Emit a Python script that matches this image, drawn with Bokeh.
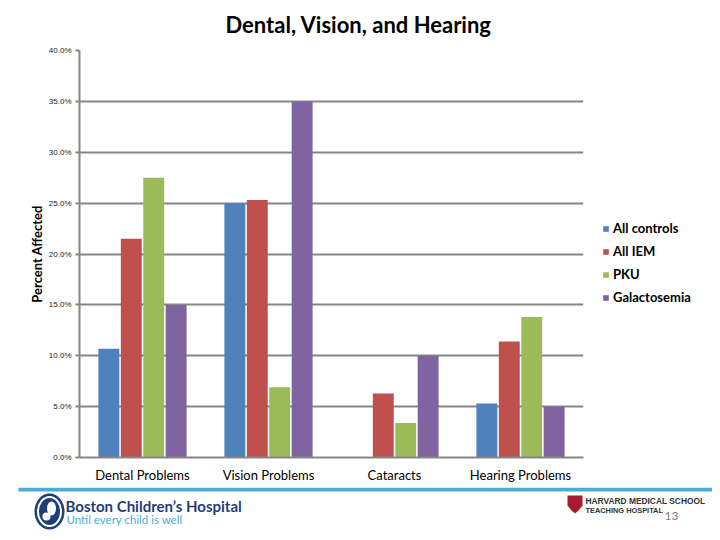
from bokeh.plotting import figure
from bokeh.models import (FactorRange, Range1d, Legend, LegendItem,
                          PrintfTickFormatter, FixedTicker, ColumnDataSource)
from bokeh.transform import dodge
from bokeh.core.properties import value
from bokeh.embed import file_html
from bokeh.resources import INLINE

# ---- data ----
categories = ["Dental Problems", "Vision Problems", "Cataracts", "Hearing Problems"]
series_names = ["All controls", "All IEM", "PKU", "Galactosemia"]
all_controls = [10.7, 25.0, 0.0, 5.3]
all_iem = [21.5, 25.3, 6.3, 11.4]
pku = [27.5, 6.9, 3.4, 13.8]
galactosemia = [15.0, 35.0, 10.0, 5.0]
y_ticks = [0, 5, 10, 15, 20, 25, 30, 35, 40]

colors = ["#4F81BD", "#C0504D", "#9BBB59", "#8064A2"]
GRID = "#868686"
FONT = "Lato"

source = ColumnDataSource(dict(cat=categories, s0=all_controls, s1=all_iem,
                               s2=pku, s3=galactosemia))

chart = figure(frame_width=504, frame_height=407,
               x_range=FactorRange(*categories), y_range=Range1d(0, 40),
               output_backend="svg", toolbar_location=None,
               title="Dental, Vision, and Hearing",
               min_border_left=79, min_border_right=129, min_border_top=50, min_border_bottom=30)
chart.outline_line_color = None
chart.background_fill_color = "white"
chart.border_fill_color = "white"

chart.title.align = "left"
chart.title.vertical_align = "top"
chart.title.offset = 146
chart.title.standoff = 21
chart.title.text_font = FONT
chart.title.text_font_size = "22px"
chart.title.text_font_style = "bold"
chart.title.text_color = "black"

chart.xgrid.grid_line_color = None
chart.ygrid.ticker = FixedTicker(ticks=y_ticks)
chart.ygrid.grid_line_color = GRID
chart.ygrid.grid_line_width = 2

# y axis
chart.yaxis.ticker = FixedTicker(ticks=y_ticks)
chart.yaxis.formatter = PrintfTickFormatter(format="%.1f%%")
chart.yaxis.major_label_text_font = "Liberation Sans"
chart.yaxis.major_label_text_font_size = "8px"
chart.yaxis.major_label_text_color = "#222222"
chart.yaxis.axis_line_color = GRID
chart.yaxis.axis_line_width = 2
chart.yaxis.major_tick_line_color = GRID
chart.yaxis.major_tick_line_width = 2
chart.yaxis.major_tick_out = 4
chart.yaxis.major_tick_in = 0
chart.yaxis.minor_tick_line_color = None
chart.yaxis.major_label_standoff = 4
chart.yaxis.axis_label = "Percent Affected"
chart.yaxis.axis_label_text_font = FONT
chart.yaxis.axis_label_text_font_style = "bold"
chart.yaxis.axis_label_text_font_size = "13px"
chart.yaxis.axis_label_text_color = "black"
chart.yaxis.axis_label_standoff = 1

# x axis
chart.xaxis.axis_line_color = GRID
chart.xaxis.axis_line_width = 2
chart.xaxis.major_tick_line_color = None
chart.xaxis.major_tick_out = 0
chart.xaxis.major_label_standoff = 9
chart.xaxis.major_label_text_font = FONT
chart.xaxis.major_label_text_font_size = "13px"
chart.xaxis.major_label_text_color = "black"

# bars
step = 0.178
offsets = [-1.5 * step, -0.5 * step, 0.5 * step, 1.5 * step]
renderers = []
for i, (col, off) in enumerate(zip(["s0", "s1", "s2", "s3"], offsets)):
    r = chart.vbar(x=dodge("cat", off, range=chart.x_range), top=col, width=step - 0.012,
                   source=source, fill_color=colors[i], line_color=None)
    renderers.append(r)

legend = Legend(items=[LegendItem(label=n, renderers=[r]) for n, r in zip(series_names, renderers)],
                location=(19, 152), orientation="vertical")
legend.border_line_color = None
legend.background_fill_alpha = 0
legend.margin = 0
legend.padding = 5
legend.glyph_width = 7
legend.glyph_height = 7
legend.label_standoff = 4
legend.label_height = 16
legend.spacing = 7
legend.label_text_font = FONT
legend.label_text_font_size = "13px"
legend.label_text_font_style = "bold"
legend.label_text_color = "black"
chart.add_layout(legend, "right")

# ---- footer (slide decoration), pixel coordinates with y downward ----
footer = figure(frame_width=712, frame_height=45, x_range=Range1d(0, 712), y_range=Range1d(45, 0),
                output_backend="svg", toolbar_location=None,
                x_axis_location=None, y_axis_location=None,
                min_border=0, min_border_left=0, min_border_right=0,
                min_border_top=0, min_border_bottom=0)
footer.grid.visible = False
footer.outline_line_color = None

footer.quad(left=[18], right=[712], top=[0], bottom=[4], fill_color="#4BACD8", line_color=None)

footer.ellipse(x=[49], y=[24], width=[30], height=[36], fill_color="#1F3F7A", line_color=None)
footer.ellipse(x=[49], y=[24], width=[25], height=[31], fill_color="white", line_color=None)
footer.ellipse(x=[49], y=[24], width=[21], height=[27], fill_color="#1F3F7A", line_color=None)
footer.ellipse(x=[51], y=[21], width=[9], height=[14], fill_color="white", line_color=None)
footer.ellipse(x=[46], y=[29], width=[8], height=[8], fill_color="white", line_color=None)

footer.text(x=[65], y=[18], text=["Boston Children\u2019s Hospital"], text_font=value(FONT),
            text_font_style="bold", text_font_size="15px", text_color="#1F3F7A",
            text_baseline="middle")
footer.text(x=[66], y=[32], text=["Until every child is well"], text_font=value(FONT),
            text_font_size="11.5px", text_color="#3FB0DE", text_baseline="middle")

footer.patch(x=[567, 582, 582, 578, 574.5, 571, 567], y=[8, 8, 18, 23, 26, 23, 18],
             fill_color="#A51C30", line_color=None)
footer.text(x=[585], y=[13], text=["HARVARD MEDICAL SCHOOL"], text_font=value("Liberation Sans"),
            text_font_style="bold", text_font_size="8.4px", text_color="#333333",
            text_baseline="middle")
footer.text(x=[585], y=[23], text=["TEACHING HOSPITAL"], text_font=value("Liberation Sans"),
            text_font_style="bold", text_font_size="7.4px", text_color="#333333",
            text_baseline="middle")
footer.text(x=[664], y=[28], text=["13"], text_font=value(FONT),
            text_font_size="12px", text_color="#7F7F7F", text_baseline="middle")

p = [chart, footer]

open("out.html", "w").write(file_html(p, INLINE))
